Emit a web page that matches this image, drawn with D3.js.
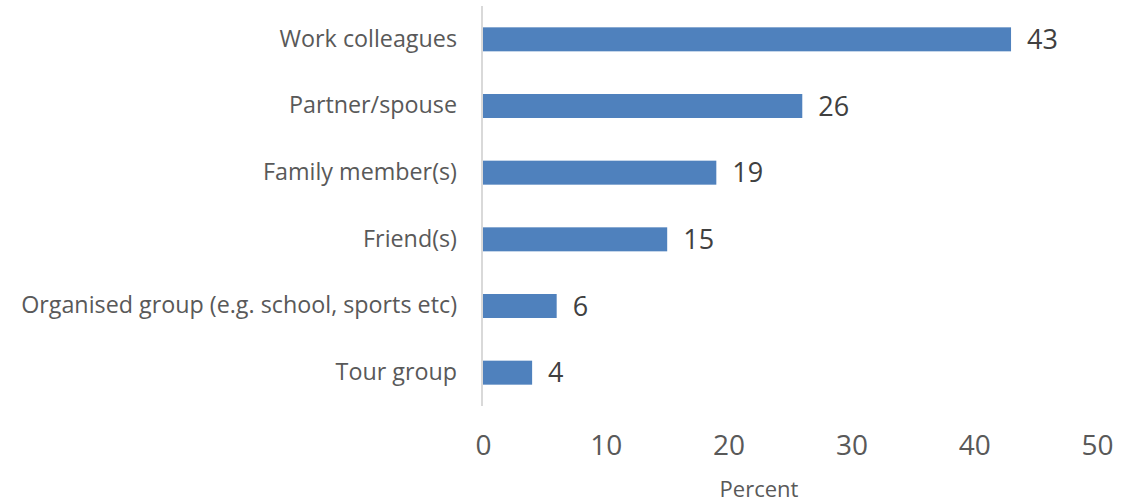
<!DOCTYPE html>
<html>
<head>
<meta charset="utf-8">
<script src="https://cdn.jsdelivr.net/npm/d3@7"></script>
<style>
  html, body { margin: 0; padding: 0; background: #ffffff; }
  svg { display: block; font-family: "Open Sans", "Noto Sans", sans-serif; }
</style>
</head>
<body>
<svg id="chart" width="1145" height="502"></svg>
<script>
// Who respondents travelled with (percent)
const categories = [
  "Work colleagues",
  "Partner/spouse",
  "Family member(s)",
  "Friend(s)",
  "Organised group (e.g. school, sports etc)",
  "Tour group"
];
const values = [43, 26, 19, 15, 6, 4];
const xTicks = [0, 10, 20, 30, 40, 50];
const xTitle = "Percent";

const data = categories.map((c, i) => ({ category: c, value: values[i] }));

const svg = d3.select("#chart");

const x = d3.scaleLinear().domain([0, 50]).range([483, 1097]);
const y = d3.scaleBand().domain(categories).range([6, 406]).paddingInner(0.64).paddingOuter(0.32);

// bars
svg.append("g")
  .selectAll("rect")
  .data(data)
  .join("rect")
  .attr("x", x(0))
  .attr("y", d => y(d.category))
  .attr("width", d => x(d.value) - x(0))
  .attr("height", y.bandwidth())
  .attr("fill", "#4f81bd");

// vertical category axis line
svg.append("line")
  .attr("x1", x(0) - 1).attr("x2", x(0) - 1)
  .attr("y1", y.range()[0]).attr("y2", y.range()[1])
  .attr("stroke", "#d9d9d9")
  .attr("stroke-width", 2);

// category labels
const yAxis = d3.axisLeft(y).tickSize(0).tickPadding(26);
const gy = svg.append("g")
  .attr("transform", `translate(${x(0)},0)`)
  .call(yAxis);
gy.select(".domain").remove();
gy.selectAll("text")
  .attr("fill", "#595959")
  .attr("font-size", 23.3)
  .attr("font-family", "'Open Sans', sans-serif");

// value labels
svg.append("g")
  .selectAll("text")
  .data(data)
  .join("text")
  .attr("x", d => x(d.value) + 16)
  .attr("y", d => y(d.category) + y.bandwidth() / 2)
  .attr("dy", "0.36em")
  .attr("fill", "#404040")
  .attr("font-size", 27)
  .text(d => d.value);

// value axis tick labels
const xAxis = d3.axisBottom(x).tickValues(xTicks).tickSize(0).tickPadding(0).tickFormat(d3.format("d"));
const gx = svg.append("g")
  .attr("transform", "translate(0,435)")
  .call(xAxis);
gx.select(".domain").remove();
gx.selectAll("text")
  .attr("fill", "#595959")
  .attr("font-size", 28)
  .attr("font-family", "'Open Sans', sans-serif");

// axis title
svg.append("text")
  .attr("x", 759)
  .attr("y", 497)
  .attr("text-anchor", "middle")
  .attr("fill", "#595959")
  .attr("font-size", 22)
  .text(xTitle);
</script>
</body>
</html>
